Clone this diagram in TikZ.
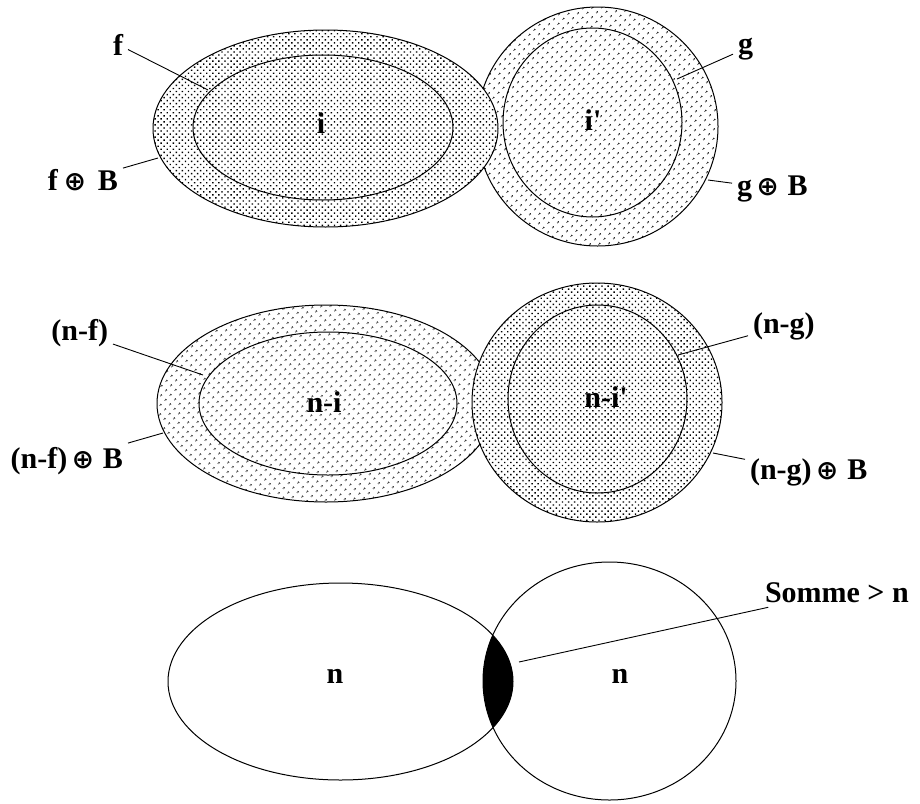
\documentclass[tikz,border=0pt]{standalone}
\usepackage{fontspec}
\setmainfont{Liberation Serif}
\newfontfamily\symfont{DejaVu Sans}
\usetikzlibrary{patterns.meta}
\newcommand\opl{\resizebox{!}{17pt}{\symfont\bfseries ⊕}}
\tikzset{
  lbl/.style={font=\fontsize{30}{30}\selectfont\bfseries, inner sep=0pt, outer sep=5pt},
  ring/.style={draw=black, line width=1pt},
  dense/.style={pattern={Dots[distance=4.3pt, radius=1pt, angle=45]}},
  sparse/.style={pattern={Dots[distance=6.5pt, radius=1pt, angle=45]}},
  lead/.style={draw=black, line width=0.9pt},
}
\begin{document}
\begin{tikzpicture}[x=1pt,y=-1pt]
\useasboundingbox (0,0) rectangle (920,803);
% ---------- top row ----------
\path[fill=white] (597.5,126.5) ellipse [x radius=120.5pt, y radius=119.5pt];
\path[ring, sparse] (597.5,126.5) ellipse [x radius=120.5pt, y radius=119.5pt];
\path[ring] (592.5,122.5) ellipse [x radius=89.5pt, y radius=94.5pt];
\path[fill=white] (325.5,128.5) ellipse [x radius=172.5pt, y radius=98.5pt];
\path[ring, dense] (325.5,128.5) ellipse [x radius=172.5pt, y radius=98.5pt];
\path[ring] (323,127.5) ellipse [x radius=130pt, y radius=72.5pt];
\node[lbl, anchor=base] (i) at (321,133) {i};
\node[lbl, anchor=base] (ip) at (593,130) {i\textquotesingle};
\node[lbl, anchor=base east] (f) at (128,55) {f};
\node[lbl, anchor=base east] (fB) at (123,190) {f\hspace{0.2em}\opl\hspace{0.4em}B};
\node[lbl, anchor=base west] (g) at (733,53) {g};
\node[lbl, anchor=base west] (gB) at (732,195) {g\hspace{0.15em}\opl\hspace{0.3em}B};
\coordinate (fc) at (208,90);
\coordinate (fBc) at (158,158);
\coordinate (gc) at (677,79);
\coordinate (gBc) at (708,180);
\draw[lead] (f) -- (fc);
\draw[lead] (fB) -- (fBc);
\draw[lead] (g) -- (gc);
\draw[lead] (gB) -- (gBc);
% ---------- middle row ----------
\path[fill=white] (326,403.5) ellipse [x radius=169pt, y radius=98.5pt];
\path[ring, sparse] (326,403.5) ellipse [x radius=169pt, y radius=98.5pt];
\path[ring] (328,403.5) ellipse [x radius=129pt, y radius=71.5pt];
\path[fill=white] (597,402.5) ellipse [x radius=125pt, y radius=119.5pt];
\path[ring, dense] (597,402.5) ellipse [x radius=125pt, y radius=119.5pt];
\path[ring] (597.5,399) ellipse [x radius=89.5pt, y radius=94pt];
\node[lbl, anchor=base] (ni) at (324,412) {n-i};
\node[lbl, anchor=base] (nip) at (606,407) {n-i\textquotesingle};
\node[lbl, anchor=base east] (nf) at (113,340) {(n-f)};
\node[lbl, anchor=base east] (nfB) at (128,468) {(n-f)\hspace{0.15em}\opl\hspace{0.3em}B};
\node[lbl, anchor=base west] (ng) at (748,333) {(n-g)};
\node[lbl, anchor=base west] (ngB) at (745,479) {(n-g)\hspace{0.15em}\opl\hspace{0.3em}B};
\coordinate (nfc) at (203,375);
\coordinate (nfBc) at (163,433);
\coordinate (ngc) at (678,355);
\coordinate (ngBc) at (713,453);
\draw[lead] (nf) -- (nfc);
\draw[lead] (nfB) -- (nfBc);
\draw[lead] (ng) -- (ngc);
\draw[lead] (ngB) -- (ngBc);
% ---------- bottom row ----------
\begin{scope}
  \clip (340.5,681.5) ellipse [x radius=172.5pt, y radius=98.5pt];
  \fill[black] (609.5,681) ellipse [x radius=126.5pt, y radius=119pt];
\end{scope}
\draw[line width=1pt] (340.5,681.5) ellipse [x radius=172.5pt, y radius=98.5pt];
\draw[line width=1pt] (609.5,681) ellipse [x radius=126.5pt, y radius=119pt];
\node[lbl, anchor=base] (n1) at (335,683) {n};
\node[lbl, anchor=base] (n2) at (620,683) {n};
\node[lbl, anchor=base west] (somme) at (760,602) {Somme > n};
\coordinate (lens) at (519,662);
\draw[lead] (somme) -- (lens);
\end{tikzpicture}
\end{document}
